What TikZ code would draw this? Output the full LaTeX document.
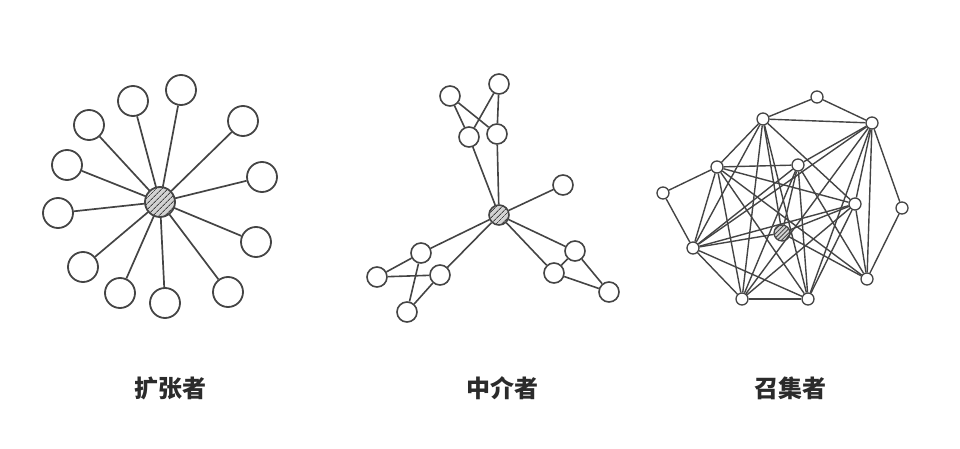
\documentclass[tikz,border=0pt]{standalone}
\usepackage{fontspec}
\usepackage{xcolor}
\usepackage{tikz}
\usetikzlibrary{patterns.meta}
\newfontfamily\cjk{Noto Sans CJK SC}
\definecolor{lc}{HTML}{444444}
\definecolor{tc}{HTML}{2B2B2B}

\begin{document}
\begin{tikzpicture}[x=1pt,y=-1pt,
  big/.style={circle,draw=lc,line width=1.8pt,fill=white,minimum size=30pt,inner sep=0pt},
  mid/.style={circle,draw=lc,line width=1.6pt,fill=white,minimum size=20pt,inner sep=0pt},
  small/.style={circle,draw=lc,line width=1.3pt,fill=white,minimum size=12pt,inner sep=0pt},
  hub/.style={preaction={fill=gray!35},pattern={Lines[angle=45,distance=4pt,line width=1pt]},pattern color=lc},
  title/.style={font=\cjk\bfseries\fontsize{24}{28}\selectfont,text=tc}]
\useasboundingbox (0,0) rectangle (960,449);

% expander
\node (a0) at (160,202) [big,hub] {};
\node (a1) at (181,90) [big] {};
\node (a2) at (133,101) [big] {};
\node (a3) at (89,125) [big] {};
\node (a4) at (67,165) [big] {};
\node (a5) at (58,213) [big] {};
\node (a6) at (83,267) [big] {};
\node (a7) at (120,293) [big] {};
\node (a8) at (165,303) [big] {};
\node (a9) at (228,292) [big] {};
\node (a10) at (256,242) [big] {};
\node (a11) at (262,177) [big] {};
\node (a12) at (243,121) [big] {};
\begin{scope}[draw=lc,line width=1.7pt]
\draw (a0) -- (a1);
\draw (a0) -- (a2);
\draw (a0) -- (a3);
\draw (a0) -- (a4);
\draw (a0) -- (a5);
\draw (a0) -- (a6);
\draw (a0) -- (a7);
\draw (a0) -- (a8);
\draw (a0) -- (a9);
\draw (a0) -- (a10);
\draw (a0) -- (a11);
\draw (a0) -- (a12);
\end{scope}

% broker
\node (b0) at (499,215) [mid,hub] {};
\node (b1) at (450,96) [mid] {};
\node (b2) at (499,84) [mid] {};
\node (b3) at (469,137) [mid] {};
\node (b4) at (497,134) [mid] {};
\node (b5) at (563,185) [mid] {};
\node (b6) at (421,253) [mid] {};
\node (b7) at (377,277) [mid] {};
\node (b8) at (440,275) [mid] {};
\node (b9) at (407,312) [mid] {};
\node (b10) at (575,251) [mid] {};
\node (b11) at (554,273) [mid] {};
\node (b12) at (609,292) [mid] {};
\begin{scope}[draw=lc,line width=1.6pt]
\draw (b1) -- (b3);
\draw (b1) -- (b4);
\draw (b2) -- (b3);
\draw (b2) -- (b4);
\draw (b3) -- (b0);
\draw (b4) -- (b0);
\draw (b5) -- (b0);
\draw (b6) -- (b0);
\draw (b8) -- (b0);
\draw (b6) -- (b7);
\draw (b7) -- (b8);
\draw (b6) -- (b9);
\draw (b8) -- (b9);
\draw (b0) -- (b10);
\draw (b0) -- (b11);
\draw (b10) -- (b11);
\draw (b10) -- (b12);
\draw (b11) -- (b12);
\end{scope}

% convener
\node (c0) at (782,233) [small,hub,minimum size=16pt,pattern={Lines[angle=45,distance=3pt,line width=0.8pt]}] {};
\node (c1) at (817,97) [small] {};
\node (c2) at (763,119) [small] {};
\node (c3) at (872,123) [small] {};
\node (c4) at (717,167) [small] {};
\node (c5) at (798,165) [small] {};
\node (c6) at (663,193) [small] {};
\node (c7) at (855,204) [small] {};
\node (c8) at (902,208) [small] {};
\node (c9) at (693,248) [small] {};
\node (c10) at (867,279) [small] {};
\node (c11) at (742,299) [small] {};
\node (c12) at (808,299) [small] {};
\begin{scope}[draw=lc,line width=1.4pt]
\draw (c1) -- (c2);
\draw (c1) -- (c3);
\draw (c2) -- (c3);
\draw (c3) -- (c8);
\draw (c8) -- (c10);
\draw (c6) -- (c4);
\draw (c6) -- (c9);
\draw (c2) -- (c4);
\draw (c4) -- (c5);
\draw (c11) -- (c12);
\draw (c9) -- (c11);
\draw (c2) -- (c9);
\draw (c2) -- (c11);
\draw (c2) -- (c0);
\draw (c2) -- (c12);
\draw (c2) -- (c7);
\draw (c3) -- (c5);
\draw (c3) -- (c9);
\draw (c3) -- (c11);
\draw (c3) -- (c12);
\draw (c3) -- (c7);
\draw (c3) -- (c10);
\draw (c4) -- (c9);
\draw (c4) -- (c11);
\draw (c4) -- (c12);
\draw (c4) -- (c7);
\draw (c4) -- (c10);
\draw (c5) -- (c9);
\draw (c5) -- (c0);
\draw (c5) -- (c11);
\draw (c5) -- (c12);
\draw (c5) -- (c10);
\draw (c9) -- (c0);
\draw (c9) -- (c7);
\draw (c9) -- (c12);
\draw (c0) -- (c7);
\draw (c0) -- (c10);
\draw (c7) -- (c11);
\draw (c7) -- (c12);
\draw (c7) -- (c10);
\end{scope}

% labels
\node (t1) at (170,388) [title] {扩张者};
\node (t2) at (502,388) [title] {中介者};
\node (t3) at (790,388) [title] {召集者};
\end{tikzpicture}
\end{document}
